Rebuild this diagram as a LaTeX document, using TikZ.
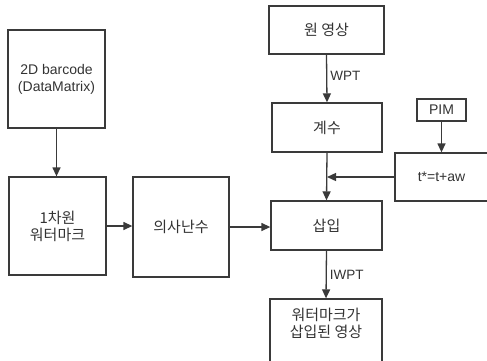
\documentclass[tikz,border=0pt]{standalone}
\usepackage{fontspec}
\setmainfont{Liberation Sans}
\newfontfamily\kofont{Noto Sans CJK KR}
\usetikzlibrary{arrows.meta}
\definecolor{ln}{HTML}{3A3A3A}
\definecolor{tx}{HTML}{333333}
\begin{document}
\begin{tikzpicture}[x=1pt,y=-1pt,
  box/.style={draw=ln,line width=1.3pt,rectangle,inner sep=0pt,align=center,
    text=tx,font=\kofont\fontsize{15}{17}\selectfont},
  conn/.style={draw=ln,line width=1.3pt,-{Triangle[length=9pt,width=8pt]}},
  lbl/.style={text=tx,font=\fontsize{13.5}{16}\selectfont,inner sep=0pt}]
\useasboundingbox (0,0) rectangle (487,360);
\clip (0,0) rectangle (487,360);
\node[box,minimum width=97pt,minimum height=98pt] (bar) at (56.5,79) {{\fontsize{14}{17}\selectfont\rmfamily 2D barcode}\\{\fontsize{14}{17}\selectfont\rmfamily (DataMatrix)}};
\node[box,minimum width=97pt,minimum height=98pt] (wm1) at (57.5,226) {1차원\\워터마크};
\node[box,minimum width=96pt,minimum height=100pt] (prn) at (181,227) {의사난수};
\node[box,minimum width=115pt,minimum height=48pt] (orig) at (326.5,30) {원 영상};
\node[box,minimum width=110pt,minimum height=49pt] (coef) at (327,127.5) {계수};
\node[box,minimum width=49pt,minimum height=22pt] (pim) at (441.5,110) {\fontsize{14}{17}\selectfont\rmfamily PIM};
\node[box,minimum width=93pt,minimum height=48pt] (tstar) at (441.5,177) {\fontsize{14}{17}\selectfont\rmfamily t*=t+aw};
\node[box,minimum width=111pt,minimum height=49pt] (ins) at (326.5,225.5) {삽입};
\node[box,minimum width=112pt,minimum height=66pt] (out) at (326,332) {};
\node[text=tx,font=\kofont\fontsize{15}{17}\selectfont,align=center] (outtxt) at (326,323) {워터마크가\\삽입된 영상};
\draw[conn] (bar.south) -- (bar.south |- wm1.north);
\draw[conn] (wm1.east) -- (wm1.east -| prn.west);
\draw[conn] (orig.south) -- node[lbl,right=3pt,pos=0.45] (wpt) {WPT} (coef.north);
\draw[conn] (coef.south) -- (ins.north);
\draw[conn] (pim.south) -- (tstar.north);
\draw[conn] (tstar.west) -- (tstar.west -| coef.south);
\draw[conn] (prn.east) -- (prn.east -| ins.west);
\draw[conn] (ins.south) -- node[lbl,right=3pt,pos=0.5] (iwpt) {IWPT} (out.north);
\end{tikzpicture}
\end{document}
